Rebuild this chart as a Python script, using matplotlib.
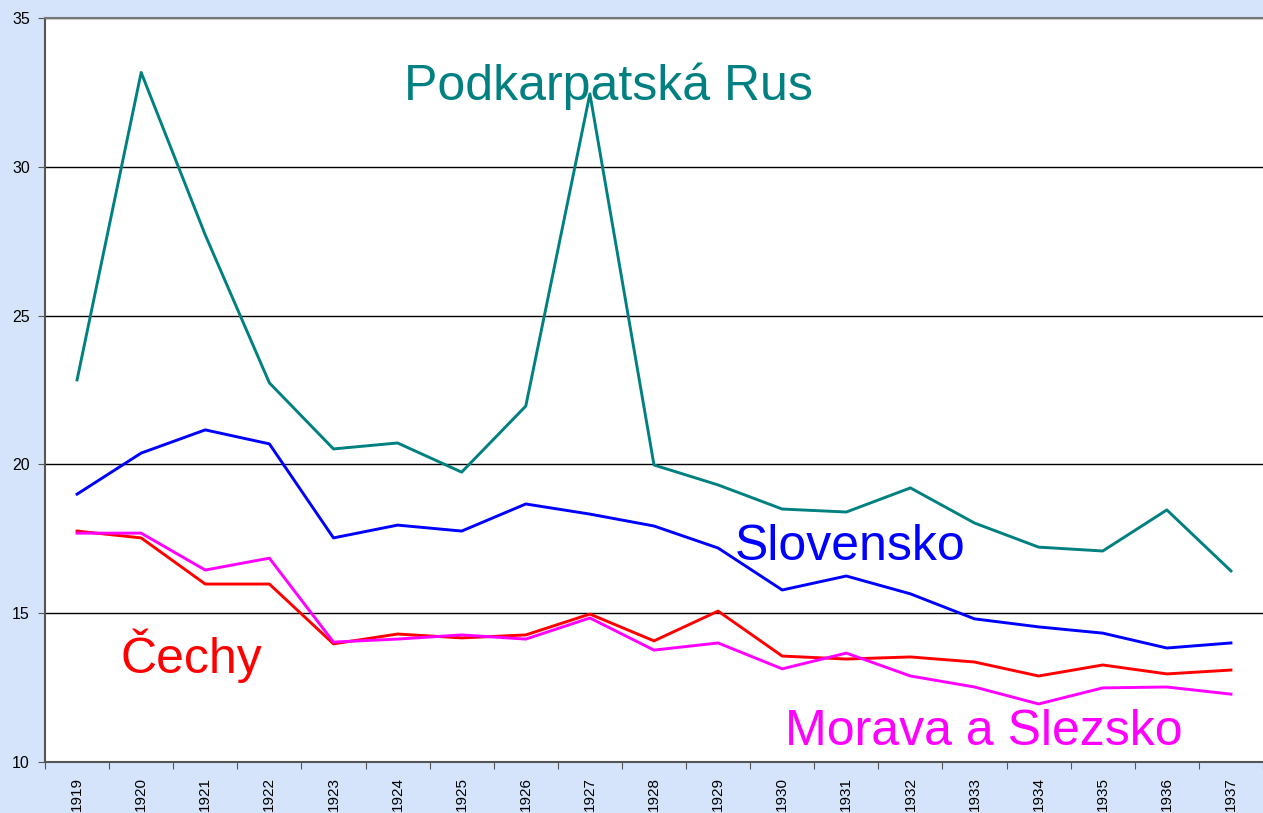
import numpy as np
import matplotlib
matplotlib.use('Agg')
import matplotlib.pyplot as plt

plt.rcParams['font.family'] = ['Liberation Sans', 'DejaVu Sans']

# 데이터
years = [str(y) for y in range(1919, 1938)]
podkarpatska = [22.84, 33.17, 27.71, 22.74, 20.52, 20.72, 19.74, 21.96, 32.45, 19.98,
                19.31, 18.50, 18.40, 19.21, 18.03, 17.22, 17.09, 18.47, 16.42]
slovensko = [19.00, 20.38, 21.16, 20.69, 17.53, 17.96, 17.76, 18.67, 18.33, 17.93,
             17.19, 15.78, 16.25, 15.65, 14.81, 14.54, 14.33, 13.83, 14.00]
cechy = [17.76, 17.53, 15.98, 15.98, 13.97, 14.30, 14.17, 14.27, 14.97, 14.07,
         15.07, 13.56, 13.46, 13.53, 13.36, 12.89, 13.26, 12.96, 13.09]
morava = [17.69, 17.69, 16.45, 16.85, 14.03, 14.13, 14.27, 14.13, 14.84, 13.76,
          14.00, 13.13, 13.66, 12.89, 12.52, 11.95, 12.49, 12.52, 12.28]

fig = plt.figure(figsize=(12.63, 8.13), dpi=100)
fig.patch.set_facecolor('#d5e4fa')
ax = fig.add_axes([45/1263, 51/813, 1 - 45/1263, 744/813])
ax.set_facecolor('white')

x = np.arange(len(years))
ax.plot(x, podkarpatska, color='#008080', linewidth=2.1)
ax.plot(x, slovensko, color='#0000ff', linewidth=2.1)
ax.plot(x, cechy, color='#ff0000', linewidth=2.1)
ax.plot(x, morava, color='#ff00ff', linewidth=2.1)

# 라벨
ax.text(5.10, 32.24, 'Podkarpatská Rus', color='#008080', fontsize=36, va='baseline')
ax.text(10.26, 16.79, 'Slovensko', color='#0000ff', fontsize=36, va='baseline')
ax.text(0.67, 12.99, 'Čechy', color='#ff0000', fontsize=36, va='baseline')
ax.text(11.04, 10.57, 'Morava a Slezsko', color='#ff00ff', fontsize=36, va='baseline')

ax.set_xlim(-0.5, len(years) - 0.5)
ax.set_ylim(10, 35)
ax.set_yticks([10, 15, 20, 25, 30, 35])
ax.yaxis.grid(True, color='black', linewidth=1)
ax.set_axisbelow(True)

# x축: 카테고리 경계에 눈금, 라벨은 가운데
ax.set_xticks(np.arange(-0.5, len(years), 1))
ax.set_xticklabels([])
ax.set_xticks(x, minor=True)
ax.set_xticklabels(years, minor=True, rotation=90, fontsize=11)
ax.tick_params(axis='x', which='minor', length=0, pad=11)
ax.tick_params(axis='x', which='major', length=5, color='#555555', direction='out')
ax.tick_params(axis='y', length=5, color='#555555', direction='out', labelsize=11.5, pad=6)

ax.spines['right'].set_visible(False)
ax.spines['top'].set_color('#777777')
ax.spines['top'].set_linewidth(1.5)
for s in ['left', 'bottom']:
    ax.spines[s].set_color('#555555')
    ax.spines[s].set_linewidth(1.5)

fig.savefig('out.png', dpi=100, facecolor=fig.get_facecolor())
